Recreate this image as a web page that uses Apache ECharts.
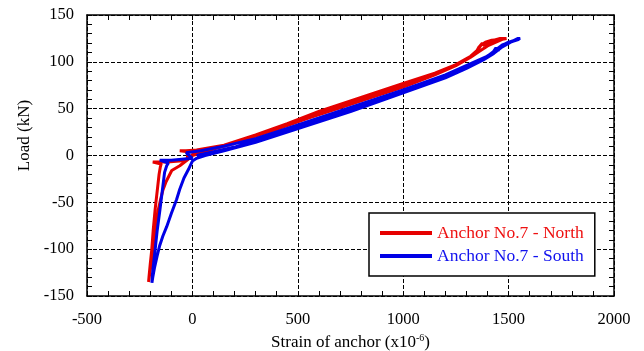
<!DOCTYPE html>
<html>
<head>
<meta charset="utf-8">
<script src="https://cdn.jsdelivr.net/npm/echarts@6/dist/echarts.min.js"></script>
<style>html,body{margin:0;padding:0;background:#fff;overflow:hidden;}#c{width:644px;height:351px;}</style>
</head>
<body>
<div id="c"></div>
<script>
// Axis ticks
var xTicks = [-500, 0, 500, 1000, 1500, 2000];
var yTicks = [-150, -100, -50, 0, 50, 100, 150];

// Anchor No.7 - North (strain x10^-6, load kN), traced in loading order
var northStrain = [0, 100, 200, 300, 400, 500, 600, 700, 800, 900, 1000, 1100, 1200, 1260, 1310, 1345, 1360, 1375, 1385, 1400, 1430, 1460, 1490,
  1470, 1440, 1400, 1360, 1320, 1250, 1150, 1000, 850, 700, 550, 400, 250, 100, 0, -20,
  -60, -98, -125, -140, -152, -162, -170, -177, -186, -195, -203, -208,
  -206, -200, -193, -186, -177, -166, -158, -152, -148, -188, -120, -60, -25,
  -20, -60, -30, 20, 150, 300, 450, 600, 800, 1000, 1150, 1250, 1320, 1355, 1370, 1390, 1420, 1470];
var northLoad = [0, 7, 13, 21, 29, 37, 46, 53, 61, 68, 75, 83, 92, 98, 104, 110, 116, 120, 117, 120, 123, 125, 125,
  124, 121, 117, 111, 105, 96, 86, 73, 62, 51, 40, 28, 17, 7, 1, -4,
  -11, -16, -28, -37, -48, -58, -72, -87, -101, -115, -127, -135,
  -130, -116, -101, -80, -58, -36, -20, -12, -9, -7, -7, -6, -4,
  4, 5, 5, 6, 11, 22, 34, 47, 62, 77, 88, 97, 106, 113, 118, 121, 123, 124];

// Anchor No.7 - South
var southStrain = [20, 100, 200, 300, 450, 600, 750, 900, 1000, 1100, 1200, 1280, 1340, 1390, 1425, 1440, 1450, 1465, 1500, 1530, 1555,
  1545, 1510, 1470, 1430, 1380, 1300, 1200, 1050, 900, 750, 600, 450, 300, 150, 60, 20,
  0, -19, -40, -60, -75, -100, -122, -140, -155, -168, -180, -188, -192,
  -190, -184, -177, -167, -154, -143, -132, -122, -114, -155, -100, -50, 0,
  -30, 40, 150, 300, 450, 600, 800, 1000, 1200, 1320, 1400, 1440, 1470, 1520, 1550];
var southLoad = [0, 4, 9, 16, 27, 38, 49, 60, 68, 76, 84, 91, 98, 105, 110, 115, 112, 117, 121, 123, 125,
  125, 121, 116, 109, 102, 93, 83, 71, 59, 47, 36, 25, 14, 5, 0, -3,
  -6, -15, -24, -36, -47, -62, -76, -86, -96, -108, -120, -130, -136,
  -128, -115, -101, -80, -58, -38, -18, -11, -8, -5, -5, -4, -3,
  3, 5, 10, 18, 29, 40, 55, 70, 86, 98, 106, 113, 118, 122, 124];

function zip(a, b) { var r = []; for (var i = 0; i < a.length; i++) r.push([a[i], b[i]]); return r; }

var serif = '"Liberation Serif", "Times New Roman", serif';
var RED = '#e60000', BLUE = '#0000e6';
function plain(v) { return String(v); }

function mkX(pos, labels, split) {
  return {
    type: 'value', position: pos, min: xTicks[0], max: xTicks[xTicks.length - 1], interval: 500,
    axisLine: { show: true, onZero: false, lineStyle: { color: '#000', width: 1.5 } },
    axisTick: { show: true, inside: true, length: 5, lineStyle: { color: '#000', width: 1 } },
    minorTick: { show: true, splitNumber: 5, length: 5, lineStyle: { color: '#000', width: 1 } },
    axisLabel: { show: labels, margin: 15, color: '#000', fontFamily: serif, fontSize: 16.5, formatter: plain },
    splitLine: { show: split, lineStyle: { color: '#000', width: 1, type: [4, 2] } }
  };
}
function mkY(pos, labels, split) {
  return {
    type: 'value', position: pos, min: yTicks[0], max: yTicks[yTicks.length - 1], interval: 50,
    axisLine: { show: true, onZero: false, lineStyle: { color: '#000', width: 1.5 } },
    axisTick: { show: true, inside: true, length: 5, lineStyle: { color: '#000', width: 1 } },
    minorTick: { show: true, splitNumber: 5, length: 5, lineStyle: { color: '#000', width: 1 } },
    axisLabel: { show: labels, margin: 13, color: '#000', fontFamily: serif, fontSize: 16.5, formatter: plain },
    splitLine: { show: split, lineStyle: { color: '#000', width: 1, type: [4, 2] } }
  };
}

var xMain = mkX('bottom', true, true);
xMain.name = '{a|Strain of anchor (x10}{s|-6}{a|)}';
xMain.nameLocation = 'middle';
xMain.nameGap = 33;
xMain.nameTextStyle = { rich: {
  a: { fontFamily: serif, fontSize: 17, color: '#000', lineHeight: 20 },
  s: { fontFamily: serif, fontSize: 10, color: '#000', lineHeight: 20, verticalAlign: 'top', padding: [0, 0, 8, 0] }
} };
var yMain = mkY('left', true, true);
yMain.name = 'Load (kN)';
yMain.nameLocation = 'middle';
yMain.nameGap = 53;
yMain.nameTextStyle = { fontFamily: serif, fontSize: 17, color: '#000', padding: [0, 0, 0, 40] };

var chart = echarts.init(document.getElementById('c'), null, { renderer: 'canvas', width: 644, height: 351 });
chart.setOption({
  animation: false,
  backgroundColor: '#fff',
  grid: { left: 87, right: 30, top: 15, bottom: 55, containLabel: false, outerBoundsMode: 'none' },
  xAxis: [xMain, mkX('top', false, false)],
  yAxis: [yMain, mkY('right', false, false)],
  legend: {
    orient: 'vertical', left: 369, top: 213,
    padding: [11, 11, 11, 11], itemGap: 5,
    itemWidth: 52, itemHeight: 4, icon: 'rect',
    backgroundColor: '#fff', borderColor: '#000', borderWidth: 1.5, borderRadius: 0,
    textStyle: { fontFamily: serif, fontSize: 17.5, lineHeight: 16 },
    data: [
      { name: 'Anchor No.7 - North', textStyle: { color: '#ee1111' } },
      { name: 'Anchor No.7 - South', textStyle: { color: '#1111ee' } }
    ]
  },
  series: [
    { name: 'Anchor No.7 - North', type: 'line', xAxisIndex: 0, yAxisIndex: 0, data: zip(northStrain, northLoad),
      showSymbol: false, color: RED, lineStyle: { color: RED, width: 3 }, z: 3 },
    { name: 'Anchor No.7 - South', type: 'line', xAxisIndex: 0, yAxisIndex: 0, data: zip(southStrain, southLoad),
      showSymbol: false, color: BLUE, lineStyle: { color: BLUE, width: 3 }, z: 4 }
  ]
});
</script>
</body>
</html>
